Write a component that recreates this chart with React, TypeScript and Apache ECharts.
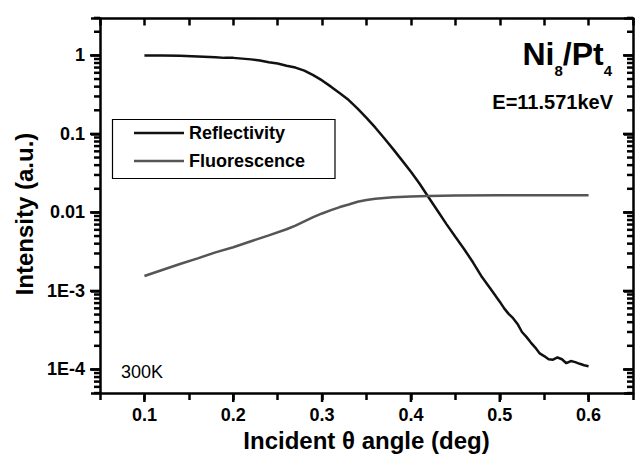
import React, { useEffect, useRef } from "react";
import * as echarts from "echarts";

const reflX = [0.1, 0.12, 0.14, 0.16, 0.18, 0.19, 0.2, 0.22, 0.23, 0.24, 0.25, 0.26, 0.27, 0.28, 0.29, 0.3, 0.31, 0.32, 0.33, 0.34, 0.35, 0.36, 0.37, 0.38, 0.39, 0.4, 0.41, 0.42, 0.43, 0.44, 0.45, 0.46, 0.47, 0.48, 0.49, 0.5, 0.505, 0.51, 0.515, 0.52, 0.525, 0.53, 0.535, 0.54, 0.545, 0.55, 0.555, 0.56, 0.565, 0.57, 0.575, 0.58, 0.585, 0.59, 0.595, 0.6];
const reflY = [1.0, 1.0, 0.99, 0.97, 0.95, 0.93, 0.93, 0.89, 0.86, 0.82, 0.79, 0.74, 0.7, 0.64, 0.56, 0.48, 0.4, 0.33, 0.27, 0.21, 0.16, 0.12, 0.088, 0.064, 0.046, 0.033, 0.023, 0.0155, 0.0105, 0.0071, 0.0049, 0.0034, 0.0023, 0.0015, 0.00105, 0.00073, 0.0006, 0.00051, 0.00045, 0.00038, 0.0003, 0.00026, 0.00022, 0.00019, 0.00016, 0.000148, 0.000135, 0.000133, 0.000142, 0.000135, 0.00012, 0.000128, 0.000124, 0.000118, 0.000113, 0.00011];

const fluoX = [0.1, 0.12, 0.14, 0.16, 0.18, 0.2, 0.22, 0.24, 0.26, 0.27, 0.28, 0.29, 0.3, 0.31, 0.32, 0.33, 0.34, 0.35, 0.36, 0.38, 0.4, 0.42, 0.45, 0.5, 0.55, 0.6];
const fluoY = [0.00155, 0.00185, 0.0022, 0.0026, 0.0031, 0.0036, 0.0043, 0.0051, 0.0061, 0.0068, 0.0077, 0.0087, 0.0097, 0.0107, 0.0117, 0.0126, 0.0137, 0.0144, 0.0149, 0.0156, 0.016, 0.0162, 0.0164, 0.0165, 0.0166, 0.0166];

const xTickValues = [0.1, 0.2, 0.3, 0.4, 0.5, 0.6];
const xTickLabels = ["0.1", "0.2", "0.3", "0.4", "0.5", "0.6"];
const xMinorValues = [0.05, 0.15, 0.25, 0.35, 0.45, 0.55, 0.65];
const yTickValues = [1e-4, 1e-3, 0.01, 0.1, 1];
const yTickLabels = ["1E-4", "1E-3", "0.01", "0.1", "1"];

const seriesNames = ["Reflectivity", "Fluorescence"];
const seriesColors = ["#111111", "#555555"];

const X_MIN = 0.05;
const X_MAX = 0.65;
const X_STEP = 0.05;
const Y_MIN = -4.3; // log10 of intensity
const Y_MAX = 0.47;

const FONT = "'Liberation Sans', Arial, Helvetica, sans-serif";

export default function App() {
  const ref = useRef<HTMLDivElement>(null);
  useEffect(() => {
    if (!ref.current) return;
    const chart = echarts.init(ref.current, null, { renderer: "svg" });

    const yMajor = yTickValues.map((v) => Math.log10(v));
    const yMinor: number[] = [];
    for (let n = -5; n <= 0; n++) {
      for (let k = 2; k <= 9; k++) {
        const v = Math.log10(k * Math.pow(10, n));
        if (v >= Y_MIN - 0.01 && v <= Y_MAX + 0.01) yMinor.push(v);
      }
    }
    const yLabelOf = (v: number) => {
      const i = yMajor.findIndex((m) => Math.abs(m - v) < 1e-6);
      return i >= 0 ? yTickLabels[i] : "";
    };
    const xLabelOf = (v: number) => {
      const i = xTickValues.findIndex((m) => Math.abs(m - v) < 1e-6);
      return i >= 0 ? xTickLabels[i] : "";
    };

    const axisLine = { show: true, onZero: false, lineStyle: { color: "#000", width: 2.5 } };
    const tickStyle = { color: "#000", width: 2.5 };
    const nameStyle = { fontFamily: FONT, fontWeight: "bold", fontSize: 24, color: "#000" };
    const labelStyle = { fontFamily: FONT, fontWeight: "bold", fontSize: 18, color: "#000" };

    const graphics: any[] = [
      {
        type: "rect",
        shape: { x: 112.5, y: 119.5, width: 222.5, height: 59 },
        style: { fill: "none", stroke: "#000", lineWidth: 1.2 },
        z: 100,
      },
      {
        type: "text",
        x: 24,
        y: 214,
        rotation: Math.PI / 2,
        style: { text: "Intensity (a.u.)", align: "center", verticalAlign: "middle", fontFamily: FONT, fontWeight: "bold", fontSize: 24, fill: "#000" },
        z: 100,
      },
      {
        type: "text",
        x: 612,
        y: 38,
        style: {
          text: "{a|Ni}{s|8}{a|/Pt}{s|4}",
          align: "right",
          verticalAlign: "top",
          rich: {
            a: { fontFamily: FONT, fontWeight: "bold", fontSize: 32, lineHeight: 32, verticalAlign: "top", fill: "#000" },
            s: { fontFamily: FONT, fontWeight: "bold", fontSize: 15, lineHeight: 15, verticalAlign: "top", padding: [25, 0, 0, 0], fill: "#000" },
          },
        },
        z: 100,
      },
      {
        type: "text",
        x: 613,
        y: 102,
        style: { text: "E=11.571keV", align: "right", verticalAlign: "middle", fontFamily: FONT, fontWeight: "bold", fontSize: 20, fill: "#000" },
        z: 100,
      },
      {
        type: "text",
        x: 121,
        y: 372,
        style: { text: "300K", align: "left", verticalAlign: "middle", fontFamily: FONT, fontSize: 18, fill: "#000" },
        z: 100,
      },
    ];

    const hiddenLogY = (pos: "left" | "right", inside: boolean) => ({
      type: "log",
      logBase: 10,
      position: pos,
      min: Math.pow(10, Y_MIN),
      max: Math.pow(10, Y_MAX),
      axisLine: { show: false, onZero: false },
      axisTick: { show: true, inside, length: 9, lineStyle: tickStyle },
      axisLabel: { show: false },
      splitLine: { show: false },
    });

    const option: any = {
      animation: false,
      backgroundColor: "#fff",
      grid: { left: 100, top: 18.5, width: 533, height: 374.5, containLabel: false },
      xAxis: [
        {
          type: "value", position: "bottom", min: X_MIN, max: X_MAX, interval: X_STEP,
          name: "Incident θ angle (deg)", nameLocation: "middle", nameGap: 35, nameTextStyle: nameStyle,
          axisLine,
          axisTick: { show: true, inside: false, length: 7, lineStyle: tickStyle },
          axisLabel: { show: true, customValues: xTickValues, formatter: xLabelOf, margin: 13, ...labelStyle },
          splitLine: { show: false },
        },
        {
          type: "value", position: "top", min: X_MIN, max: X_MAX, interval: X_STEP,
          axisLine,
          axisTick: { show: true, inside: true, length: 7, lineStyle: tickStyle },
          axisLabel: { show: false }, splitLine: { show: false },
        },
      ],
      yAxis: [
        {
          type: "value", position: "left", min: Y_MIN, max: Y_MAX,
          axisLine, axisTick: { show: false },
          axisLabel: { show: true, customValues: yMajor, formatter: yLabelOf, margin: 15, ...labelStyle },
          splitLine: { show: false },
        },
        {
          type: "value", position: "right", min: Y_MIN, max: Y_MAX,
          axisLine, axisTick: { show: false }, axisLabel: { show: false }, splitLine: { show: false },
        },
        hiddenLogY("left", false),
        hiddenLogY("right", true),
      ],
      legend: {
        show: true,
        data: seriesNames,
        orient: "vertical",
        left: 134,
        top: 124,
        icon: "rect",
        itemWidth: 50,
        itemHeight: 2.5,
        itemGap: 10,
        padding: 0,
        textStyle: { fontFamily: FONT, fontWeight: "bold", fontSize: 18, color: "#000", lineHeight: 17 },
      },
      series: [
        {
          name: seriesNames[0],
          type: "line",
          xAxisIndex: 0,
          yAxisIndex: 0,
          data: reflX.map((x, i) => [x, Math.log10(reflY[i])]),
          symbol: "none",
          lineStyle: { color: seriesColors[0], width: 2.5 },
          itemStyle: { color: seriesColors[0] },
        },
        {
          name: seriesNames[1],
          type: "line",
          xAxisIndex: 0,
          yAxisIndex: 0,
          data: fluoX.map((x, i) => [x, Math.log10(fluoY[i])]),
          symbol: "none",
          lineStyle: { color: seriesColors[1], width: 2.5 },
          itemStyle: { color: seriesColors[1] },
        },
      ],
      graphic: graphics,
    };
    chart.setOption(option);

    // log-spaced minor ticks and longer major ticks, positioned through the grid's own scales
    const tickLines: any[] = [];
    const addTicks = (pts: number[][], dx: number, dy: number) => {
      pts.forEach((pt) => {
        const p = chart.convertToPixel({ xAxisIndex: 0, yAxisIndex: 0 }, pt) as number[];
        if (!p || !isFinite(p[0]) || !isFinite(p[1])) return;
        tickLines.push({
          type: "polyline",
          silent: true,
          z: 200,
          shape: { points: [[p[0], p[1]], [p[0] + dx, p[1] + dy]] },
          style: { stroke: "#000", lineWidth: 2.5, fill: null },
        });
      });
    };
    addTicks(xTickValues.map((x) => [x, Y_MIN]), 0, 9);
    addTicks(yMajor.map((y) => [X_MIN, y]), -10, 0);
    addTicks(yMinor.map((y) => [X_MIN, y]), -6, 0);
    addTicks(yMajor.map((y) => [X_MAX, y]), -10, 0);
    addTicks(yMinor.map((y) => [X_MAX, y]), -6, 0);
    chart.setOption({ graphic: [...graphics, ...tickLines] });

    return () => chart.dispose();
  }, []);
  return <div ref={ref} style={{ position: "fixed", left: 0, top: 0, width: 636, height: 459, background: "#fff" }} />;
}
